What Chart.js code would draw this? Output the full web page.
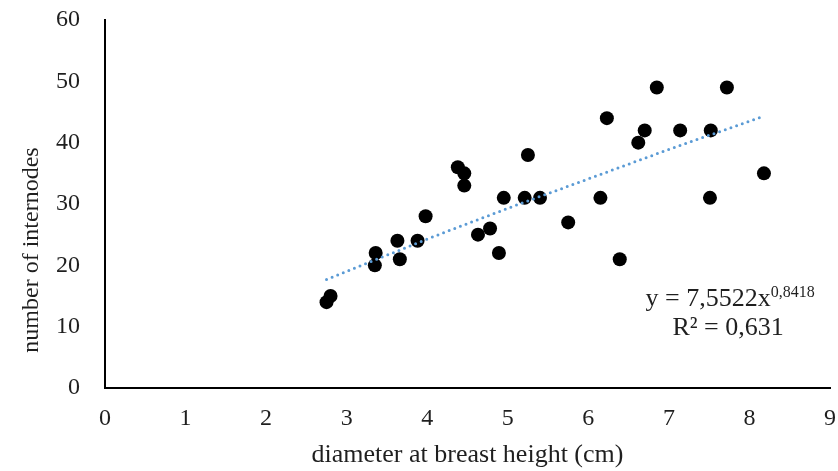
<!DOCTYPE html>
<html>
<head>
<meta charset="utf-8">
<script src="https://cdn.jsdelivr.net/npm/chart.js@4.4.1/dist/chart.umd.min.js"></script>
<style>
  html, body { margin: 0; padding: 0; background: #fff; }
  #chart { display: block; }
</style>
</head>
<body>
<canvas id="chart" width="838" height="471"></canvas>
<script>
// diameter at breast height (cm) vs number of internodes
const dbh = [2.75, 2.80, 3.35, 3.36, 3.63, 3.66, 3.88, 3.98, 4.38, 4.46, 4.46, 4.63, 4.78, 4.89, 4.95,
             5.21, 5.25, 5.40, 5.75, 6.15, 6.23, 6.39, 6.62, 6.70, 6.85, 7.14, 7.51, 7.52, 7.72, 8.18];
const internodes = [14, 15, 20, 22, 24, 21, 24, 28, 36, 35, 33, 25, 26, 22, 31,
                    31, 38, 31, 27, 31, 44, 21, 40, 42, 49, 42, 31, 42, 49, 35];

// power trend line y = 7,5522x^0,8418
const trendX = [2.75, 3, 4, 5, 6, 7, 8, 8.18];
const trendY = [17.7, 19.0, 24.3, 29.3, 34.1, 38.9, 43.5, 44.3];

const xTicks = [0, 1, 2, 3, 4, 5, 6, 7, 8, 9];
const yTicks = [0, 10, 20, 30, 40, 50, 60];

const xTitle = 'diameter at breast height (cm)';
const yTitle = 'number of internodes';
const eqMain = 'y = 7,5522x';
const eqExp = '0,8418';
const eqR2 = 'R² = 0,631';

const FONT = "'Liberation Serif', 'Times New Roman', serif";
const TEXT = '#1f1f1f';

const points = dbh.map((x, i) => ({x: x, y: internodes[i]}));
const trend = trendX.map((x, i) => ({x: x, y: trendY[i]}));

// y title and trendline equation
const labelsPlugin = {
    id: 'labels',
    afterDraw(chart) {
        const ctx = chart.ctx;
        const xs = chart.scales.x, ys = chart.scales.y;
        ctx.save();
        ctx.fillStyle = TEXT;

        // y axis title
        ctx.font = '24px ' + FONT;
        ctx.textAlign = 'center';
        ctx.textBaseline = 'middle';
        ctx.translate(32, ys.getPixelForValue(22.5));
        ctx.rotate(-Math.PI / 2);
        ctx.fillText(yTitle, 0, 0);
        ctx.restore();

        // equation
        ctx.save();
        ctx.fillStyle = TEXT;
        ctx.textBaseline = 'alphabetic';
        ctx.textAlign = 'left';
        const cx = xs.getPixelForValue(7.76);
        const base1 = ys.getPixelForValue(13.3);
        const base2 = ys.getPixelForValue(8.6);
        ctx.font = '26px ' + FONT;
        const w1 = ctx.measureText(eqMain).width;
        ctx.font = '16px ' + FONT;
        const w2 = ctx.measureText(eqExp).width;
        let x0 = cx - (w1 + w2) / 2;
        ctx.font = '26px ' + FONT;
        ctx.fillText(eqMain, x0, base1);
        ctx.font = '16px ' + FONT;
        ctx.fillText(eqExp, x0 + w1, base1 - 9);
        ctx.font = '26px ' + FONT;
        ctx.textAlign = 'center';
        ctx.fillText(eqR2, cx - 2, base2);
        ctx.restore();
    }
};

new Chart(document.getElementById('chart'), {
    type: 'scatter',
    data: {
        datasets: [{
            type: 'line',
            data: trend,
            borderColor: '#5B9BD5',
            borderWidth: 3,
            borderDash: [0, 6],
            borderCapStyle: 'round',
            pointRadius: 0,
            fill: false,
            tension: 0
        }, {
            data: points,
            backgroundColor: '#000',
            borderColor: '#000',
            borderWidth: 0,
            pointRadius: 7,
            pointHoverRadius: 7
        }]
    },
    options: {
        responsive: false,
        animation: false,
        layout: { padding: { top: 20, right: 8, left: 0, bottom: 0 } },
        plugins: {
            legend: { display: false },
            tooltip: { enabled: false }
        },
        scales: {
            x: {
                type: 'linear',
                min: 0,
                max: 9,
                afterBuildTicks: s => { s.ticks = xTicks.map(v => ({value: v})); },
                afterFit: s => { s.height = 83; s.paddingLeft = 0; s.paddingRight = 0; },
                grid: { display: false, drawTicks: false },
                border: { color: '#000', width: 2 },
                ticks: { color: TEXT, font: { family: FONT, size: 24 }, padding: 16, maxRotation: 0 },
                title: {
                    display: true,
                    text: xTitle,
                    color: TEXT,
                    font: { family: FONT, size: 26 },
                    padding: { top: 0, bottom: 0 }
                }
            },
            y: {
                type: 'linear',
                min: 0,
                max: 60,
                afterBuildTicks: s => { s.ticks = yTicks.map(v => ({value: v})); },
                afterFit: s => { s.width = 105; s.paddingTop = 0; s.paddingBottom = 0; },
                grid: { display: false, drawTicks: false },
                border: { color: '#000', width: 2 },
                ticks: { color: TEXT, font: { family: FONT, size: 24 }, padding: 25 }
            }
        }
    },
    plugins: [labelsPlugin]
});
</script>
</body>
</html>
